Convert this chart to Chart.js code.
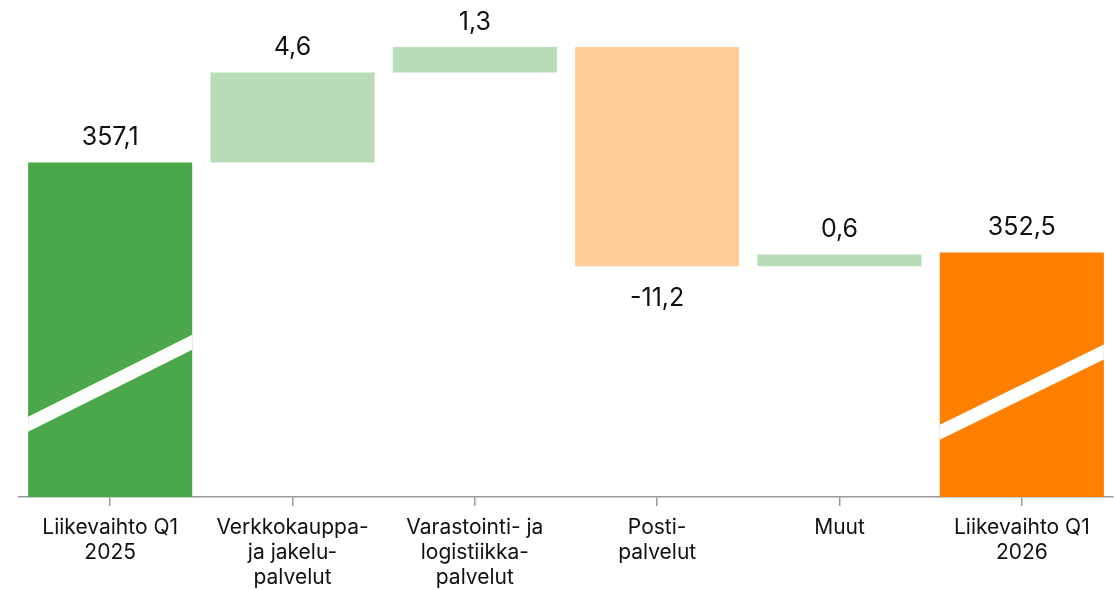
<!DOCTYPE html>
<html>
<head>
<meta charset="utf-8">
<script src="https://cdn.jsdelivr.net/npm/chart.js@4"></script>
<style>
  html, body { margin: 0; padding: 0; background: #fff; }
  #wrap { width: 1115px; height: 590px; }
</style>
</head>
<body>
<div id="wrap"><canvas id="bar-chart"></canvas></div>
<script>
const kategoriat = [
  ["Liikevaihto Q1", "2025"],
  ["Verkkokauppa-", "ja jakelu-", "palvelut"],
  ["Varastointi- ja", "logistiikka-", "palvelut"],
  ["Posti-", "palvelut"],
  ["Muut"],
  ["Liikevaihto Q1", "2026"]
];
const arvot = [357.1, 4.6, 1.3, -11.2, 0.6, 352.5];
const onSumma = [true, false, false, false, false, true];
const arvoTekstit = ["357,1", "4,6", "1,3", "-11,2", "0,6", "352,5"];
const varit = ["#4aa84a", "#b7dcb7", "#b7dcb7", "#ffcb99", "#b7dcb7", "#ff8000"];

const Y_MIN = 340;
const Y_MAX = 365;

// waterfall: kelluvat palkit
let kertyma = 0;
const palkit = arvot.map((v, i) => {
  if (onSumma[i]) {
    kertyma = v;
    return [Y_MIN, v];
  }
  const alku = kertyma;
  kertyma = kertyma + v;
  return [alku, kertyma];
});

const fontti = "Inter, 'Noto Sans', sans-serif";

const arvoLabelit = {
  id: "arvoLabelit",
  afterDatasetsDraw(chart) {
    const ctx = chart.ctx;
    const meta = chart.getDatasetMeta(0);
    ctx.save();
    ctx.font = "25px " + fontti;
    ctx.fillStyle = "#111";
    ctx.textAlign = "center";
    ctx.textBaseline = "middle";
    meta.data.forEach((bar, i) => {
      const ylä = Math.min(bar.y, bar.base);
      const ala = Math.max(bar.y, bar.base);
      if (arvot[i] < 0) {
        ctx.fillText(arvoTekstit[i], bar.x, ala + 32);
      } else {
        ctx.fillText(arvoTekstit[i], bar.x, ylä - 25);
      }
    });
    ctx.restore();
  }
};

// akselin katkos valkoisena vinoviivana summapalkeissa
const katkos = {
  id: "katkos",
  afterDatasetsDraw(chart) {
    const ctx = chart.ctx;
    const y = chart.scales.y;
    const meta = chart.getDatasetMeta(0);
    ctx.save();
    ctx.fillStyle = "#fff";
    meta.data.forEach((bar, i) => {
      if (!onSumma[i]) return;
      const vasen = bar.x - bar.width / 2;
      const oikea = bar.x + bar.width / 2;
      const y1 = y.getPixelForValue(i === 0 ? 344.1 : 343.7);
      const y2 = y.getPixelForValue(i === 0 ? 348.3 : 347.8);
      ctx.beginPath();
      ctx.moveTo(vasen, y1);
      ctx.lineTo(oikea, y2);
      ctx.lineTo(oikea, y2 + 15);
      ctx.lineTo(vasen, y1 + 15);
      ctx.closePath();
      ctx.fill();
    });
    ctx.restore();
  }
};

const config = {
  type: "bar",
  data: {
    labels: kategoriat,
    datasets: [{
      data: palkit,
      backgroundColor: varit,
      borderWidth: 0,
      categoryPercentage: 0.9,
      barPercentage: 1.0,
    }],
  },
  options: {
    responsive: true,
    maintainAspectRatio: false,
    animation: false,
    layout: { padding: { left: 19, right: 2, top: 8, bottom: 0 } },
    plugins: {
      legend: { display: false },
      tooltip: { enabled: false },
    },
    scales: {
      x: {
        grid: {
          display: true,
          drawOnChartArea: false,
          offset: false,
          tickLength: 9,
          color: "#999",
          lineWidth: 1.5,
        },
        border: { display: true, color: "#999", width: 1.5 },
        ticks: {
          color: "#111",
          padding: 9,
          maxRotation: 0,
          autoSkip: false,
          font: { family: fontti, size: 21, lineHeight: 1.2 },
        },
        afterFit(scale) { scale.height = 93; },
      },
      y: {
        display: false,
        min: Y_MIN,
        max: Y_MAX,
      },
    },
  },
  plugins: [arvoLabelit, katkos],
};

const ctx = document.getElementById("bar-chart").getContext("2d");
new Chart(ctx, config);
</script>
</body>
</html>
